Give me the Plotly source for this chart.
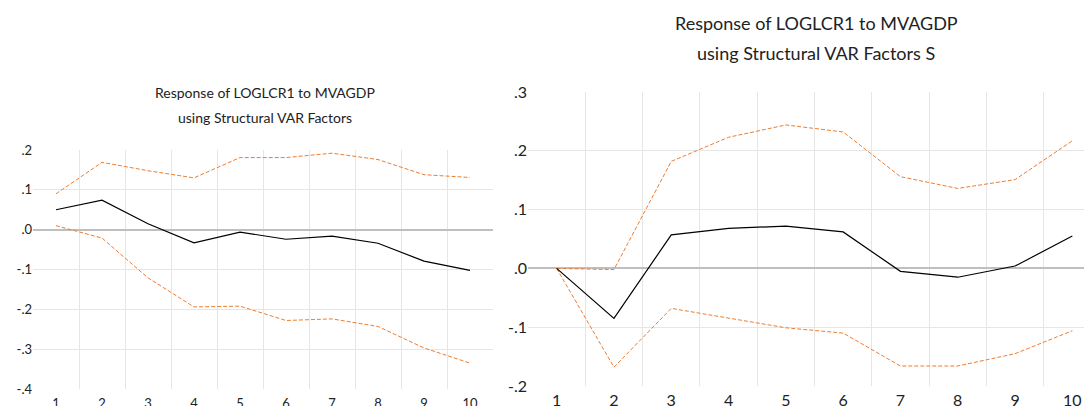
import plotly.graph_objects as go

periods = list(range(1, 11))

# Left chart: Response of LOGLCR1 to MVAGDP using Structural VAR Factors
left_resp = [0.050, 0.074, 0.015, -0.033, -0.006, -0.024, -0.016, -0.034, -0.079, -0.102]
left_upper = [0.090, 0.169, 0.148, 0.130, 0.181, 0.181, 0.192, 0.176, 0.138, 0.131]
left_lower = [0.010, -0.021, -0.121, -0.194, -0.192, -0.228, -0.224, -0.243, -0.297, -0.335]

# Right chart: Response of LOGLCR1 to MVAGDP using Structural VAR Factors S
right_resp = [0.0, -0.085, 0.057, 0.068, 0.072, 0.062, -0.005, -0.015, 0.004, 0.055]
right_upper = [0.0, -0.002, 0.182, 0.223, 0.244, 0.232, 0.156, 0.136, 0.151, 0.217]
right_lower = [0.0, -0.168, -0.068, -0.085, -0.101, -0.110, -0.166, -0.166, -0.145, -0.106]

left_yticks = [-0.4, -0.3, -0.2, -0.1, 0.0, 0.1, 0.2]
left_ytext = ["-.4", "-.3", "-.2", "-.1", ".0", ".1", ".2"]
right_yticks = [-0.2, -0.1, 0.0, 0.1, 0.2, 0.3]
right_ytext = ["-.2", "-.1", ".0", ".1", ".2", ".3"]

left_title = ["Response of LOGLCR1 to MVAGDP", "using Structural VAR Factors"]
right_title = ["Response of LOGLCR1 to MVAGDP", "using Structural VAR Factors S"]

# The page body has an 8px margin, so the figure is drawn from screen (8, 8).
OFF = 8
W, H = 1092 - OFF, 406 - OFF
def fx(px):
    return (px - OFF) / W
def fy(py):
    return 1 - (py - OFF) / H

ORANGE = "#ED7D31"
GRID = "#e6e6e6"
ZERO = "#bfbfbf"
FONT = "Lato"
TXT = "#222"

fig = go.Figure()

def add_lines(x, resp, up, lo, xa, ya):
    fig.add_trace(go.Scatter(x=x, y=up, mode="lines", xaxis=xa, yaxis=ya,
                             line=dict(color=ORANGE, width=1, dash="4px,2px"), showlegend=False))
    fig.add_trace(go.Scatter(x=x, y=lo, mode="lines", xaxis=xa, yaxis=ya,
                             line=dict(color=ORANGE, width=1, dash="4px,2px"), showlegend=False))
    fig.add_trace(go.Scatter(x=x, y=resp, mode="lines", xaxis=xa, yaxis=ya,
                             line=dict(color="black", width=1.2), showlegend=False))

add_lines(periods, left_resp, left_upper, left_lower, "x", "y")
add_lines(periods, right_resp, right_upper, right_lower, "x2", "y2")

between = [p + 0.5 for p in periods[:-1]]

def xaxis_cfg(domain, rng, size, anchor, standoff):
    return dict(domain=domain, range=rng, tickvals=periods, ticktext=[str(p) for p in periods],
                anchor=anchor, automargin=False, ticklabelstandoff=standoff,
                showgrid=False, zeroline=False, showline=False, ticks="",
                tickfont=dict(family=FONT, size=size, color=TXT),
                minor=dict(tickvals=between, showgrid=True, gridcolor=GRID, gridwidth=1, ticks=""),
                fixedrange=True)

def yaxis_cfg(domain, rng, vals, text, size, anchor):
    inner = [v for v in vals[1:-1] if abs(v) > 1e-9]
    return dict(domain=domain, range=rng, tickvals=vals, ticktext=text, anchor=anchor,
                automargin=False,
                showgrid=False, zeroline=True, zerolinecolor=ZERO, zerolinewidth=1.5,
                showline=False, ticks="",
                tickfont=dict(family=FONT, size=size, color=TXT),
                minor=dict(tickvals=inner, showgrid=True, gridcolor=GRID, gridwidth=1, ticks=""),
                fixedrange=True)

# left plot area (screen px): x 33..493, y 150..389
lx0, lx1 = 33, 493
ly0, ly1 = 150, 389
# right plot area (screen px): x 528..1092 (continues beyond window), y 92..386
rx0, rx1 = 528, 1092
ry0, ry1 = 92, 386
r_step = 57.3
r_range_max = 0.5 + (rx1 - rx0) / r_step

fig.update_layout(
    width=W, height=H,
    margin=dict(l=0, r=0, t=0, b=0, autoexpand=False),
    paper_bgcolor="white", plot_bgcolor="white",
    xaxis=xaxis_cfg([fx(lx0), fx(lx1)], [0.5, 10.5], 13, "y", 5),
    yaxis=yaxis_cfg([fy(ly1), fy(ly0)], [-0.4, 0.2], left_yticks, left_ytext, 13, "x"),
    xaxis2=xaxis_cfg([fx(rx0), min(1.0, fx(rx1))], [0.5, r_range_max], 16, "y2", 3),
    yaxis2=yaxis_cfg([fy(ry1), fy(ry0)], [-0.2, 0.3], right_yticks, right_ytext, 16, "x2"),
)

for line, ypx in zip(left_title, [93, 117]):
    fig.add_annotation(text=line, x=fx(265), y=fy(ypx), xref="paper", yref="paper",
                       showarrow=False, xanchor="center", yanchor="middle",
                       font=dict(family=FONT, size=14, color=TXT))
for line, ypx in zip(right_title, [23, 53]):
    fig.add_annotation(text=line, x=fx(816), y=fy(ypx), xref="paper", yref="paper",
                       showarrow=False, xanchor="center", yanchor="middle",
                       font=dict(family=FONT, size=18, color=TXT))

fig.write_html("out.html")
